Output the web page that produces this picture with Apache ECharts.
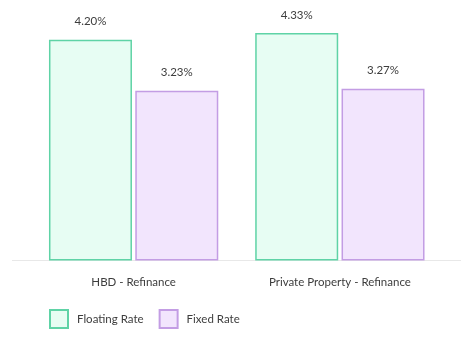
<!DOCTYPE html>
<html>
<head>
<meta charset="utf-8">
<script src="https://cdn.jsdelivr.net/npm/echarts@6/dist/echarts.min.js"></script>
<style>
  html, body { margin: 0; padding: 0; background: #fff; }
  #chart { width: 474px; height: 338px; }
</style>
</head>
<body>
<div id="chart"></div>
<script>
// Refinance rates by property type
const categories = ['HBD - Refinance', 'Private Property - Refinance'];
const floatingRate = [4.20, 4.33];
const fixedRate = [3.23, 3.27];
const seriesNames = ['Floating Rate', 'Fixed Rate'];

const FONT = 'Lato';
const TEXT = '#3d3d3d';
const chart = echarts.init(document.getElementById('chart'), null, { renderer: 'canvas' });

const labelStyle = {
  show: true,
  position: 'top',
  distance: 12,
  color: TEXT,
  fontFamily: FONT,
  fontSize: 11.5,
  formatter: p => p.value.toFixed(2) + '%'
};

chart.setOption({
  animation: false,
  textStyle: { fontFamily: FONT },
  grid: { left: 30.5, right: 31, top: 24, bottom: 77.5 },
  xAxis: {
    type: 'category',
    data: categories,
    axisLine: { show: false },
    axisTick: { show: false },
    axisLabel: { color: TEXT, fontFamily: FONT, fontSize: 11.5, margin: 16 }
  },
  yAxis: {
    type: 'value',
    min: 0,
    max: 4.5,
    show: false,
    splitLine: { show: false }
  },
  legend: {
    left: 49,
    top: 309,
    padding: 0,
    itemWidth: 18,
    itemHeight: 18,
    itemGap: 15,
    icon: 'rect',
    textStyle: { color: TEXT, fontFamily: FONT, fontSize: 11.5, padding: [0, 0, 0, 4] },
    data: seriesNames
  },
  graphic: [{
    type: 'line',
    shape: { x1: 12, y1: 260.5, x2: 461, y2: 260.5 },
    style: { stroke: '#e8e8e8', lineWidth: 1 },
    z: 0
  }],
  series: [
    {
      name: seriesNames[0],
      type: 'bar',
      data: floatingRate,
      barWidth: 83,
      barGap: '4%',
      itemStyle: { color: '#e7fdf3', borderColor: '#5fd3a6', borderWidth: 1.5 },
      label: labelStyle
    },
    {
      name: seriesNames[1],
      type: 'bar',
      data: fixedRate,
      barWidth: 83,
      barGap: '4%',
      itemStyle: { color: '#f2e5fd', borderColor: '#c39de4', borderWidth: 1.5 },
      label: labelStyle
    }
  ]
});
</script>
</body>
</html>
